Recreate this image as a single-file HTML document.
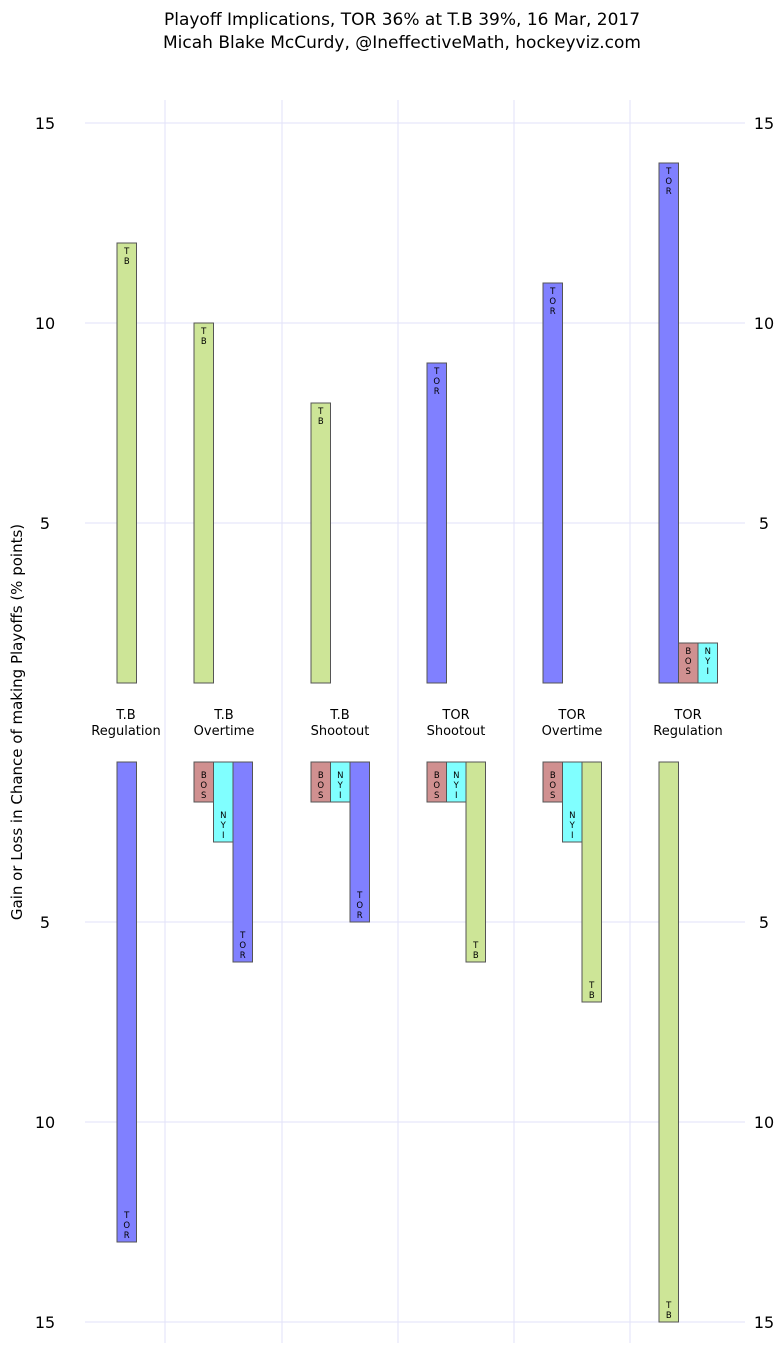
<!DOCTYPE html>
<html><head><meta charset="utf-8"><style>
body{margin:0;background:#fff;font-family:"Liberation Sans","DejaVu Sans",sans-serif}
svg text{font-family:"DejaVu Sans","Liberation Sans",sans-serif}
</style></head><body>
<svg id="chart" width="783" height="1353" viewBox="0 0 783 1353" xmlns="http://www.w3.org/2000/svg">
<text x="402" y="25" font-size="17" text-anchor="middle">Playoff Implications, TOR 36% at T.B 39%, 16 Mar, 2017</text>
<text x="402" y="48" font-size="17" text-anchor="middle">Micah Blake McCurdy, @IneffectiveMath, hockeyviz.com</text>
<text x="0" y="0" font-size="15" text-anchor="middle" transform="translate(22,722) rotate(-90)">Gain or Loss in Chance of making Playoffs (% points)</text>
<g id="grid"></g><g id="bars"></g><g id="labels"></g>
</svg>
<script>
const scenarios = ["T.B\nRegulation","T.B\nOvertime","T.B\nShootout","TOR\nShootout","TOR\nOvertime","TOR\nRegulation"];
const gainTeams = [["T.B"],["T.B"],["T.B"],["TOR"],["TOR"],["TOR","BOS","NYI"]];
const gainValues = [[12],[10],[8],[9],[11],[14,2,2]];
const lossTeams = [["TOR"],["BOS","NYI","TOR"],["BOS","NYI","TOR"],["BOS","NYI","T.B"],["BOS","NYI","T.B"],["T.B"]];
const lossValues = [[13],[2,3,6],[2,2,5],[2,2,6],[2,3,7],[15]];
const tickValues = [5,10,15];
const colors = {"T.B":"#cde597","TOR":"#8080ff","BOS":"#d09090","NYI":"#80ffff"};
const NS="http://www.w3.org/2000/svg";
const yTop = v => 723 - 40*v;
const yBot = v => 722 + 40*v;
const gl=[117,194,311,427,543,659];
const groupX = i => gl[i];
const labelX = i => [126,224,340,456,572,688][i];
const W=19.5;
function mk(tag,attrs,parent){const e=document.createElementNS(NS,tag);for(const k in attrs)e.setAttribute(k,attrs[k]);parent.appendChild(e);return e;}
const grid=document.getElementById('grid'),bars=document.getElementById('bars'),labels=document.getElementById('labels');
tickValues.forEach(t=>{
  [yTop(t),yBot(t)].forEach((y,j)=>{
    const l=mk('line',{x1:85,x2:745,y1:y,y2:y,stroke:'#e2e2f8','stroke-width':1},grid);
    
    
    const a=mk('text',{x:45,y:y+6,'font-size':16,'text-anchor':'middle'},grid);a.textContent=t;
    
    
    const b=mk('text',{x:764,y:y+6,'font-size':16,'text-anchor':'middle'},grid);b.textContent=t;
    
    
  });
});
[165,282,398,514,630].forEach(x=>{
  const l=mk('line',{x1:x,x2:x,y1:100,y2:1343,stroke:'#e2e2f8','stroke-width':1},grid);
  
  
});
function vlabel(team,x,y,parent){
  const chars=team.replace('.','').split('');
  chars.forEach((c,k)=>{
    const t=mk('text',{x:x,y:y+k*10,'font-size':8.5,'text-anchor':'middle'},parent);t.textContent=c;
    
    
  });
}
scenarios.forEach((s,i)=>{
  const lines=s.split('\n');
  lines.forEach((ln,k)=>{
    const t=mk('text',{x:labelX(i),y:719+k*16,'font-size':13,'text-anchor':'middle'},labels);t.textContent=ln;
    
    
  });
  gainValues[i].forEach((v,k)=>{
    const x=groupX(i)+k*W, team=gainTeams[i][k];
    const r=mk('rect',{x:x,y:yTop(v),width:W,height:yTop(1)-yTop(v),fill:colors[team],stroke:'#555','stroke-width':1},bars);
    
    
    vlabel(team,x+W/2,yTop(v)+11,labels);
  });
  lossValues[i].forEach((v,k)=>{
    const x=groupX(i)+k*W, team=lossTeams[i][k];
    const r=mk('rect',{x:x,y:yBot(1),width:W,height:yBot(v)-yBot(1),fill:colors[team],stroke:'#555','stroke-width':1},bars);
    
    
    const n=team.replace('.','').length;
    vlabel(team,x+W/2,yBot(v)-4-(n-1)*10,labels);
  });
});
</script>
</body></html>
